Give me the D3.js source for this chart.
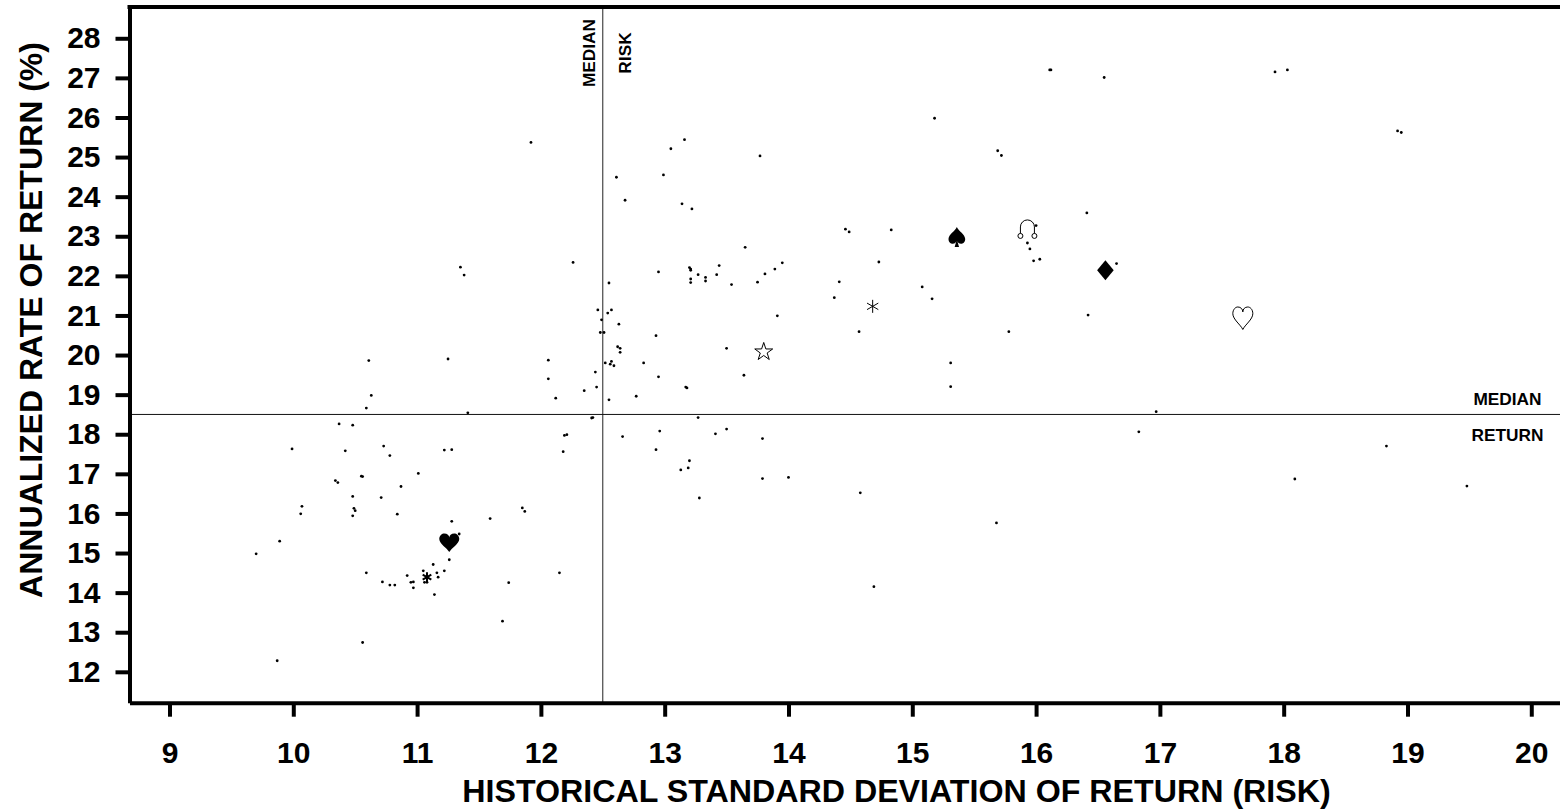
<!DOCTYPE html>
<html>
<head>
<meta charset="utf-8">
<script src="https://d3js.org/d3.v7.min.js"></script>
<style>
  body { margin: 0; background: #fff; }
  text { font-family: "Liberation Sans", Arial, sans-serif; font-weight: bold; fill: #000; }
</style>
</head>
<body>
<div id="chart"></div>
<script>

// risk (x) and return (y) for every fund dot
const risk = [
  10.61, 10.63, 10.59, 10.37, 10.48, 9.99, 10.42, 10.73, 10.78, 10.34, 10.36, 10.55, 10.56, 10.87, 10.07,
  10.06, 10.48, 10.49, 10.50, 10.48, 10.71, 10.84, 9.89, 9.70, 10.59, 10.72, 10.78, 10.82, 10.56, 9.87,
  11.92, 13.16, 13.05, 13.77, 12.61, 12.99, 12.68, 13.14, 13.22, 13.65, 11.35, 11.38, 12.26, 12.95, 13.20,
  13.21, 13.21, 13.44, 13.27, 13.42, 13.33, 13.33, 13.21, 13.21, 13.54, 13.75, 13.81, 13.89, 13.95, 12.55,
  12.46, 12.54, 12.57, 12.49, 12.63, 12.48, 12.51, 12.93, 13.91, 12.62, 12.64, 12.64, 13.50, 11.25, 12.06,
  12.06, 12.52, 12.57, 12.56, 12.59, 12.83, 12.44, 12.95, 13.64, 12.35, 12.45, 13.17, 13.18, 12.77, 12.12,
  12.55, 11.41, 12.41, 12.42, 12.19, 12.21, 12.18, 11.22, 11.28, 11.01, 12.66, 12.96, 13.27, 13.41, 13.50,
  13.79, 12.93, 13.13, 13.19, 13.20, 13.79, 14.00, 13.28, 11.85, 11.87, 11.59, 11.28, 11.34, 11.26, 11.13,
  11.22, 11.16, 11.17, 11.05, 11.06, 11.08, 10.92, 10.95, 10.97, 10.97, 11.14, 11.74, 12.15, 11.69,
  16.11, 16.12, 16.55, 15.18, 15.69, 15.72, 16.41, 14.46, 14.49, 14.83, 16.00, 15.93, 15.95, 15.98, 16.03,
  16.65, 14.73, 14.41, 14.37, 15.08, 15.16, 16.42, 14.57, 15.78, 15.31, 15.31, 16.97, 16.83, 14.58, 15.68,
  14.69, 17.93, 18.03, 18.92, 18.95, 18.83, 18.09, 19.48
];
const annualReturn = [
  19.86, 18.98, 18.66, 18.26, 18.23, 17.63, 17.58, 17.70, 17.46, 16.83, 16.78, 16.94, 16.93, 16.68, 16.18,
  15.99, 16.43, 16.13, 16.07, 15.94, 16.40, 15.98, 15.30, 14.98, 14.50, 14.27, 14.19, 14.19, 12.74, 12.28,
  25.37, 25.44, 25.21, 25.03, 24.49, 24.55, 23.91, 23.82, 23.69, 22.72, 22.22, 22.02, 22.34, 22.10, 22.21,
  22.17, 22.14, 22.26, 22.03, 22.03, 21.96, 21.87, 21.92, 21.83, 21.78, 21.84, 22.05, 22.17, 22.33, 21.82,
  21.14, 21.06, 21.14, 20.89, 20.78, 20.57, 20.57, 20.49, 20.99, 20.21, 20.17, 20.07, 20.17, 19.90, 19.87,
  19.40, 19.80, 19.84, 19.77, 19.73, 19.80, 19.57, 19.45, 19.49, 19.10, 19.19, 19.19, 19.17, 18.96, 18.91,
  18.87, 18.54, 18.41, 18.42, 17.97, 17.99, 17.56, 17.60, 17.61, 17.01, 17.94, 18.08, 18.42, 18.01, 18.13,
  17.89, 17.61, 17.10, 17.15, 17.33, 16.88, 16.91, 16.39, 16.14, 16.05, 15.87, 15.80, 15.48, 14.83, 14.71,
  14.55, 14.50, 14.39, 14.55, 14.26, 14.26, 14.43, 14.26, 14.27, 14.12, 13.95, 14.25, 14.50, 13.28,
  27.20, 27.20, 27.01, 25.98, 25.16, 25.04, 23.59, 23.18, 23.11, 23.16, 23.27, 22.83, 22.68, 22.38, 22.42,
  22.31, 22.35, 21.85, 21.45, 21.72, 21.42, 21.01, 20.59, 20.59, 19.80, 19.20, 18.57, 18.06, 16.52, 15.76,
  14.15, 27.15, 27.20, 25.66, 25.62, 17.70, 16.87, 16.69
];

// highlighted funds drawn with their own marker
const markerShape  = ["star", "asterisk", "spade", "node", "diamond", "heartOpen", "heart", "asteriskSmall"];
const markerRisk   = [13.80, 14.68, 15.36, 15.93, 16.56, 17.67, 11.26, 11.08];
const markerReturn = [20.08, 21.23, 22.98, 23.16, 22.14, 20.93, 15.26, 14.39];

const xTicks = [9, 10, 11, 12, 13, 14, 15, 16, 17, 18, 19, 20];
const yTicks = [12, 13, 14, 15, 16, 17, 18, 19, 20, 21, 22, 23, 24, 25, 26, 27, 28];

const medianRisk = 12.5;
const medianReturn = 18.5;

let width = 1560;
let height = 809;
let plotLeft = 129.5, plotRight = 1560, plotTop = 7, plotBottom = 702.7;

let svg = d3.select('#chart')
  .append('svg')
  .attr('width', width)
  .attr('height', height);

let x = d3.scaleLinear().domain([8.677, 20.232]).range([plotLeft, plotRight]);
let y = d3.scaleLinear().domain([11.22, 28.79]).range([plotBottom, plotTop]);

// median cross lines
svg.append('line')
  .attr('x1', x(medianRisk)).attr('x2', x(medianRisk))
  .attr('y1', plotTop).attr('y2', plotBottom)
  .attr('stroke', '#222').attr('stroke-width', 1);
svg.append('line')
  .attr('x1', plotLeft).attr('x2', plotRight)
  .attr('y1', y(medianReturn)).attr('y2', y(medianReturn))
  .attr('stroke', '#111').attr('stroke-width', 1);

// labels next to the median lines
svg.append('text')
  .attr('transform', `translate(${x(medianRisk) - 8},53) rotate(-90)`)
  .attr('text-anchor', 'middle')
  .style('font-size', '17.3px')
  .text('MEDIAN');
svg.append('text')
  .attr('transform', `translate(${x(medianRisk) + 28},53) rotate(-90)`)
  .attr('text-anchor', 'middle')
  .style('font-size', '17.3px')
  .text('RISK');
svg.append('text')
  .attr('x', 1507.5).attr('y', y(medianReturn) - 9)
  .attr('text-anchor', 'middle')
  .style('font-size', '17.3px')
  .text('MEDIAN');
svg.append('text')
  .attr('x', 1507.5).attr('y', y(medianReturn) + 27)
  .attr('text-anchor', 'middle')
  .style('font-size', '17.3px')
  .text('RETURN');

// plain dots
let points = risk.map(function(r, i){ return { risk: r, ret: annualReturn[i] }; });
svg.selectAll('.fund')
  .data(points)
  .enter()
  .append('circle')
    .attr('class', 'fund')
    .attr('cx', function(d){ return x(d.risk); })
    .attr('cy', function(d){ return y(d.ret); })
    .attr('r', 1.4)
    .attr('fill', '#000');

// marker shapes, drawn around (0,0)
function heartPath(w, h){
  let p = d3.path();
  p.moveTo(0, 0.5*h);
  p.bezierCurveTo(-0.1*w, 0.3*h, -0.5*w, 0.05*h, -0.5*w, -0.2*h);
  p.bezierCurveTo(-0.5*w, -0.4*h, -0.36*w, -0.5*h, -0.25*w, -0.5*h);
  p.bezierCurveTo(-0.1*w, -0.5*h, 0, -0.4*h, 0, -0.28*h);
  p.bezierCurveTo(0, -0.4*h, 0.1*w, -0.5*h, 0.25*w, -0.5*h);
  p.bezierCurveTo(0.36*w, -0.5*h, 0.5*w, -0.4*h, 0.5*w, -0.2*h);
  p.bezierCurveTo(0.5*w, 0.05*h, 0.1*w, 0.3*h, 0, 0.5*h);
  p.closePath();
  return p.toString();
}
function spadePath(w, h){
  let p = d3.path();
  p.moveTo(0, -0.5*h);
  p.bezierCurveTo(-0.1*w, -0.3*h, -0.5*w, -0.12*h, -0.5*w, 0.1*h);
  p.bezierCurveTo(-0.5*w, 0.28*h, -0.35*w, 0.34*h, -0.25*w, 0.34*h);
  p.bezierCurveTo(-0.12*w, 0.34*h, -0.06*w, 0.28*h, -0.03*w, 0.2*h);
  p.lineTo(-0.13*w, 0.5*h);
  p.lineTo(0.13*w, 0.5*h);
  p.lineTo(0.03*w, 0.2*h);
  p.bezierCurveTo(0.06*w, 0.28*h, 0.12*w, 0.34*h, 0.25*w, 0.34*h);
  p.bezierCurveTo(0.35*w, 0.34*h, 0.5*w, 0.28*h, 0.5*w, 0.1*h);
  p.bezierCurveTo(0.5*w, -0.12*h, 0.1*w, -0.3*h, 0, -0.5*h);
  p.closePath();
  return p.toString();
}
function nodePath(){
  // the "ascending node" sign: an arch standing on two small rings
  let p = d3.path();
  p.moveTo(-7, 3.5);
  p.lineTo(-7, -3);
  p.arc(0, -3, 7, Math.PI, 0);
  p.lineTo(7, 3.5);
  p.moveTo(-4.5, 6);
  p.arc(-7, 6, 2.5, 0, 2*Math.PI);
  p.moveTo(9.5, 6);
  p.arc(7, 6, 2.5, 0, 2*Math.PI);
  return p.toString();
}
function diamondPath(){
  return 'M0,-10L8.3,0L0,10L-8.3,0Z';
}

let markerStyle = {
  star:          { d: d3.symbol(d3.symbolStar, 100)(), fill: '#fff', stroke: '#000', sw: 1 },
  asterisk:      { d: d3.symbol(d3.symbolAsterisk, 119)(), fill: 'none', stroke: '#000', sw: 1 },
  spade:         { d: spadePath(16.7, 20), fill: '#000', stroke: 'none', sw: 0 },
  node:          { d: nodePath(), fill: 'none', stroke: '#000', sw: 1 },
  diamond:       { d: diamondPath(), fill: '#000', stroke: 'none', sw: 0 },
  heartOpen:     { d: heartPath(20, 22.5), fill: '#fff', stroke: '#000', sw: 1 },
  heart:         { d: heartPath(20, 18.7), fill: '#000', stroke: 'none', sw: 0 },
  asteriskSmall: { d: d3.symbol(d3.symbolAsterisk, 70)(), fill: 'none', stroke: '#000', sw: 2 }
};

let markers = markerShape.map(function(s, i){
  return { shape: s, risk: markerRisk[i], ret: markerReturn[i] };
});
svg.selectAll('.marker')
  .data(markers)
  .enter()
  .append('path')
    .attr('class', 'marker')
    .attr('transform', function(d){ return `translate(${x(d.risk)},${y(d.ret)})`; })
    .attr('d', function(d){ return markerStyle[d.shape].d; })
    .attr('fill', function(d){ return markerStyle[d.shape].fill; })
    .attr('stroke', function(d){ return markerStyle[d.shape].stroke; })
    .attr('stroke-width', function(d){ return markerStyle[d.shape].sw; });

// axes
let xAxis = d3.axisBottom(x).tickValues(xTicks).tickSize(14).tickSizeOuter(0).tickPadding(25);
let yAxis = d3.axisLeft(y).tickValues(yTicks).tickSize(14).tickSizeOuter(0).tickPadding(15);

let gx = svg.append('g').attr('transform', `translate(0,${plotBottom})`).call(xAxis);
let gy = svg.append('g').attr('transform', `translate(${plotLeft},0)`).call(yAxis);

[gx, gy].forEach(function(g){
  g.attr('font-family', null).attr('font-size', null);
  g.selectAll('path, line').attr('stroke', '#000').attr('stroke-width', 4);
  g.selectAll('text').style('font-size', '30px');
});

// top frame line (no right edge in the original)
svg.append('line')
  .attr('x1', plotLeft - 2).attr('x2', plotRight)
  .attr('y1', plotTop).attr('y2', plotTop)
  .attr('stroke', '#000').attr('stroke-width', 4);

// axis titles
svg.append('text')
  .attr('x', 896.5).attr('y', 801.5)
  .attr('text-anchor', 'middle')
  .style('font-size', '32.2px')
  .text('HISTORICAL STANDARD DEVIATION OF RETURN (RISK)');
svg.append('text')
  .attr('transform', 'translate(42,320) rotate(-90)')
  .attr('text-anchor', 'middle')
  .style('font-size', '32px')
  .text('ANNUALIZED RATE OF RETURN (%)');

</script>
</body>
</html>
